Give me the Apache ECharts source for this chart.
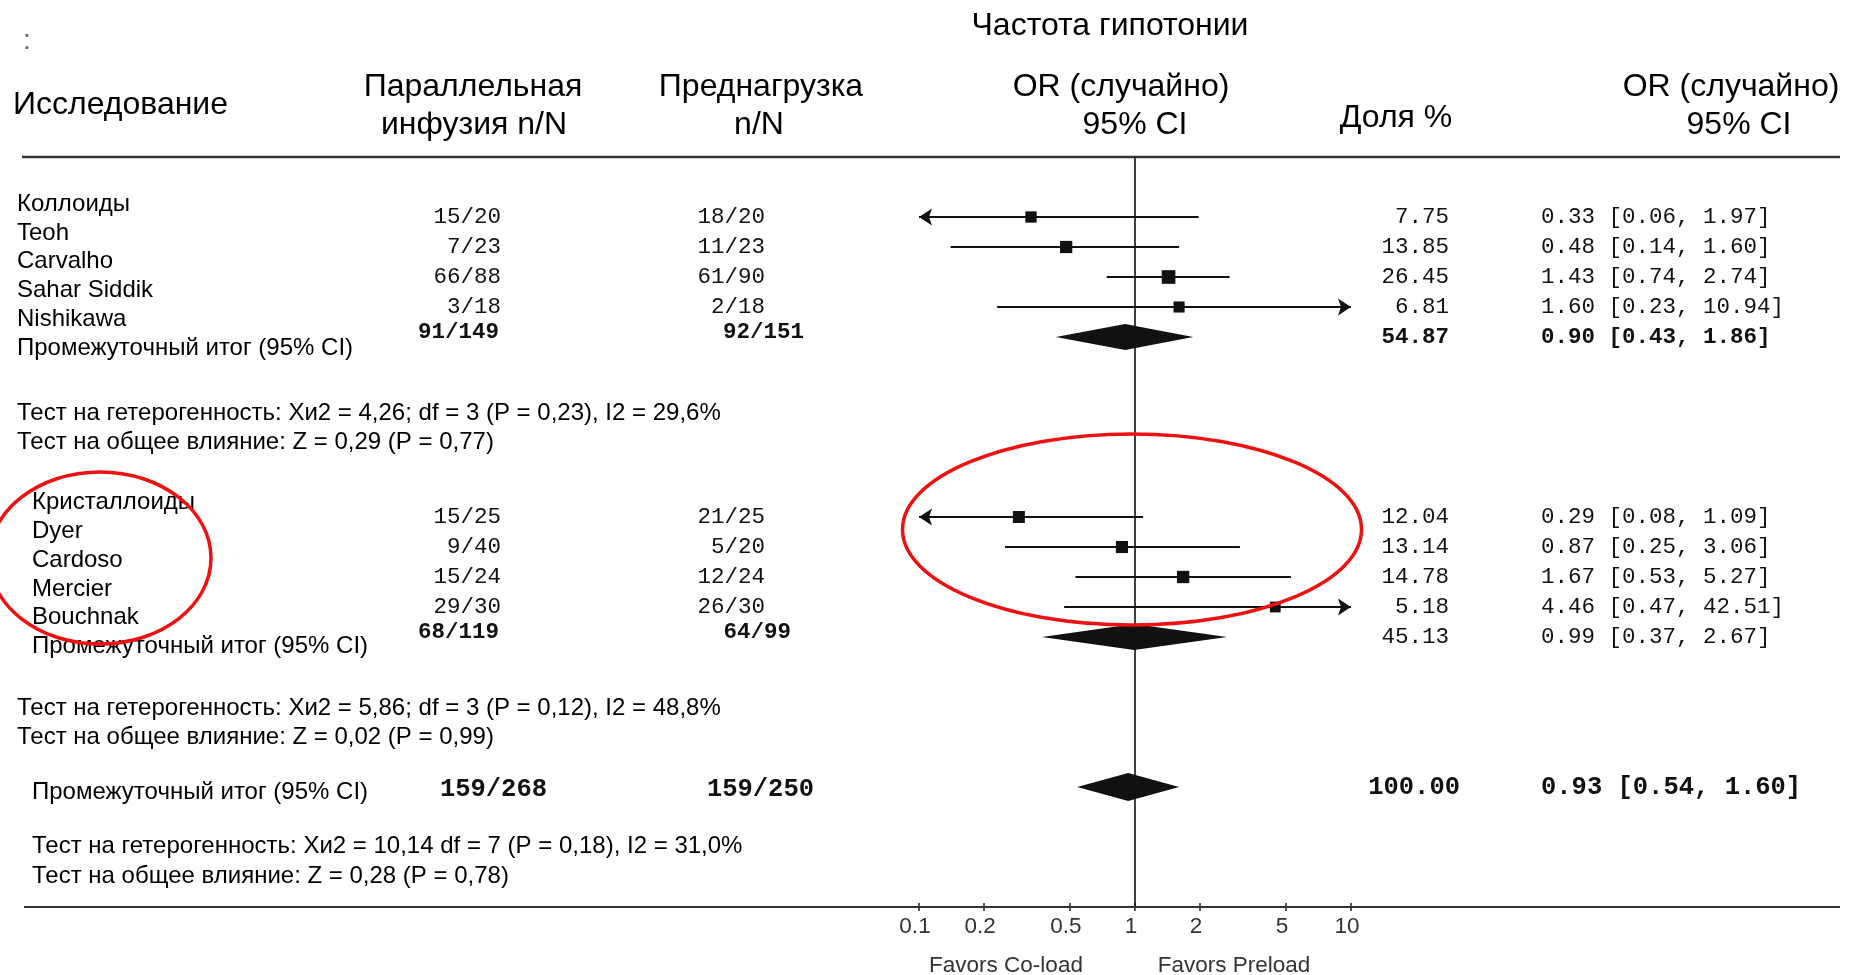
<!DOCTYPE html>
<html><head><meta charset="utf-8">
<script src="https://cdn.jsdelivr.net/npm/echarts@6/dist/echarts.min.js"></script>
<style>html,body{margin:0;padding:0;background:#fff}#c{width:1852px;height:975px}</style>
</head><body><div id="c"></div>
<script>
// ---------------- data ----------------
const chartTitle = 'Частота гипотонии';
const headerStudy = 'Исследование';
const headerCoLoad = ['Параллельная', 'инфузия n/N'];
const headerPreload = ['Преднагрузка', 'n/N'];
const headerOR = ['OR (случайно)', '95% CI'];
const headerWeight = 'Доля %';

const group1Name = 'Коллоиды';
const group1Studies = ['Teoh', 'Carvalho', 'Sahar Siddik', 'Nishikawa'];
const group1CoLoad = ['15/20', '7/23', '66/88', '3/18'];
const group1Preload = ['18/20', '11/23', '61/90', '2/18'];
const group1Weight = [7.75, 13.85, 26.45, 6.81];
const group1OR = [0.33, 0.48, 1.43, 1.60];
const group1Low = [0.06, 0.14, 0.74, 0.23];
const group1High = [1.97, 1.60, 2.74, 10.94];

const group2Name = 'Кристаллоиды';
const group2Studies = ['Dyer', 'Cardoso', 'Mercier', 'Bouchnak'];
const group2CoLoad = ['15/25', '9/40', '15/24', '29/30'];
const group2Preload = ['21/25', '5/20', '12/24', '26/30'];
const group2Weight = [12.04, 13.14, 14.78, 5.18];
const group2OR = [0.29, 0.87, 1.67, 4.46];
const group2Low = [0.08, 0.25, 0.53, 0.47];
const group2High = [1.09, 3.06, 5.27, 42.51];

const subtotalLabel = 'Промежуточный итог (95% CI)';
const subtotalCoLoad = ['91/149', '68/119'];
const subtotalPreload = ['92/151', '64/99'];
const subtotalWeight = [54.87, 45.13];
const subtotalOR = [0.90, 0.99];
const subtotalLow = [0.43, 0.37];
const subtotalHigh = [1.86, 2.67];

const totalCoLoad = '159/268';
const totalPreload = '159/250';
const totalWeight = 100.00;
const totalOR = 0.93;
const totalLow = 0.54;
const totalHigh = 1.60;

const tests1 = ['Тест на гетерогенность: Хи2 = 4,26; df = 3 (P = 0,23), I2 = 29,6%',
                'Тест на общее влияние: Z = 0,29 (P = 0,77)'];
const tests2 = ['Тест на гетерогенность: Хи2 = 5,86; df = 3 (P = 0,12), I2 = 48,8%',
                'Тест на общее влияние: Z = 0,02 (P = 0,99)'];
const testsTotal = ['Тест на гетерогенность: Хи2 = 10,14 df = 7 (P = 0,18), I2 = 31,0%',
                    'Тест на общее влияние: Z = 0,28 (P = 0,78)'];

const tickValues = [0.1, 0.2, 0.5, 1, 2, 5, 10];
const favorsLabels = ['Favors Co-load', 'Favors Preload'];

// ---------------- layout (positions / styles) ----------------
const SANS = '"Liberation Sans", Arial, sans-serif';
const MONO = '"Liberation Mono", "Courier New", monospace';
const L = {
  gridLeft: 919, gridWidth: 432, gridTop: 157, gridHeight: 750,
  rowMin: -2, rowMax: 23,
  rows1: [0, 1, 2, 3], sub1: 4,
  rows2: [10, 11, 12, 13], sub2: 14,
  total: 19,
  colCoRight: 501, colPreRight: 765,
  subCoRight: [499, 499], subPreRight: [804, 791],
  totCoRight: 547, totPreRight: 814,
  weightRight: 1449, totWeightRight: 1460,
  ciLeft: 1541,
  monoSize: 22.5, monoBigSize: 25.5,
  labelSize: 24, headSize: 32
};
const INK = '#111';
const MONOINK = '#111';
const axisMin = tickValues[0], axisMax = tickValues[tickValues.length - 1];
const fmtCI = (o, l, h) => o.toFixed(2) + ' [' + l.toFixed(2) + ', ' + h.toFixed(2) + ']';

// ---------------- series data ----------------
const ciData = [], sqData = [], dmData = [];
function addStudies(ors, lows, highs, weights, rows) {
  ors.forEach((o, i) => {
    ciData.push([lows[i], highs[i], rows[i]]);
    sqData.push([o, rows[i], weights[i]]);
  });
}
addStudies(group1OR, group1Low, group1High, group1Weight, L.rows1);
addStudies(group2OR, group2Low, group2High, group2Weight, L.rows2);
dmData.push([subtotalOR[0], subtotalLow[0], subtotalHigh[0], L.sub1, 13]);
dmData.push([subtotalOR[1], subtotalLow[1], subtotalHigh[1], L.sub2, 13]);
dmData.push([totalOR, totalLow, totalHigh, L.total, 14]);

const chart = echarts.init(document.getElementById('c'), null, {renderer: 'canvas'});
const tickFmt = v => String(+Number(v).toPrecision(3));

chart.setOption({
  animation: false,
  backgroundColor: '#ffffff',
  grid: {left: L.gridLeft, width: L.gridWidth, top: L.gridTop, height: L.gridHeight, containLabel: false},
  xAxis: [{
    type: 'log', logBase: 10, min: axisMin, max: axisMax, position: 'bottom',
    axisLine: {show: false, onZero: false},
    splitLine: {show: false},
    axisTick: {show: true, length: 4, customValues: tickValues, lineStyle: {color: '#222', width: 1.5}},
    axisLabel: {show: true, customValues: tickValues, formatter: tickFmt, margin: 8,
      fontFamily: SANS, fontSize: 22.5, color: '#333', padding: [0, 8, 0, 0]},
    minorTick: {show: false}
  }, {
    type: 'log', logBase: 10, min: axisMin, max: axisMax, position: 'bottom', gridIndex: 0,
    axisLine: {show: false, onZero: false}, splitLine: {show: false}, axisLabel: {show: false},
    axisTick: {show: true, inside: true, length: 4, customValues: tickValues, lineStyle: {color: '#222', width: 1.5}}
  }],
  yAxis: {type: 'value', inverse: true, min: L.rowMin, max: L.rowMax, show: false},
  series: [{
    type: 'custom', name: 'ci', xAxisIndex: 0, data: ciData, encode: {x: [0, 1], y: 2}, silent: true,
    renderItem: (params, api) => {
      const lo = api.value(0), hi = api.value(1), row = api.value(2);
      const a = api.coord([Math.max(lo, axisMin), row]);
      const b = api.coord([Math.min(hi, axisMax), row]);
      const ch = [{type: 'line', shape: {x1: a[0], y1: a[1], x2: b[0], y2: b[1]}, style: {stroke: INK, lineWidth: 2.2}}];
      if (lo < axisMin) ch.push({type: 'polygon', shape: {points: [[a[0], a[1]], [a[0] + 13, a[1] - 8.5], [a[0] + 10, a[1]], [a[0] + 13, a[1] + 8.5]]}, style: {fill: INK}});
      if (hi > axisMax) ch.push({type: 'polygon', shape: {points: [[b[0], b[1]], [b[0] - 13, b[1] - 8.5], [b[0] - 10, b[1]], [b[0] - 13, b[1] + 8.5]]}, style: {fill: INK}});
      return {type: 'group', children: ch};
    },
    markLine: {
      silent: true, symbol: 'none', label: {show: false},
      lineStyle: {color: '#111', width: 1.6, type: 'solid'},
      data: [{xAxis: 1}]
    }
  }, {
    type: 'custom', name: 'or', xAxisIndex: 0, data: sqData, encode: {x: 0, y: 1}, silent: true,
    renderItem: (params, api) => {
      const p = api.coord([api.value(0), api.value(1)]);
      const s = 8.5 + Math.sqrt(api.value(2));
      return {type: 'rect', shape: {x: p[0] - s / 2, y: p[1] - s / 2, width: s, height: s}, style: {fill: '#111'}};
    }
  }, {
    type: 'custom', name: 'pooled', xAxisIndex: 0, data: dmData, encode: {x: [1, 2], y: 3}, silent: true,
    renderItem: (params, api) => {
      const row = api.value(3), hh = api.value(4);
      const c = api.coord([api.value(0), row]);
      const l = api.coord([api.value(1), row]);
      const r = api.coord([api.value(2), row]);
      return {type: 'polygon', shape: {points: [[l[0], c[1]], [c[0], c[1] - hh], [r[0], c[1]], [c[0], c[1] + hh]]}, style: {fill: '#111'}};
    }
  }]
});

// ---------------- text table (positions from the y scale) ----------------
const rowY = r => chart.convertToPixel({yAxisIndex: 0}, r);
const G = [];
function txt(text, x, y, size, opts) {
  opts = opts || {};
  G.push({type: 'text', x: x, y: y, silent: true, z: 10,
    style: {text: text, fontFamily: opts.font || SANS, fontSize: size, fontWeight: opts.weight || 'normal',
      fill: opts.color || '#000', textAlign: opts.align || 'left', textVerticalAlign: 'middle',
      align: opts.align || 'left', verticalAlign: 'middle'}});
}
// headers
txt(chartTitle, 1110, 26, L.headSize, {align: 'center'});
txt(':', 23, 41, 28, {color: '#666'});
txt(headerStudy, 13, 105, L.headSize);
txt(headerCoLoad[0], 473, 87, L.headSize, {align: 'center'});
txt(headerCoLoad[1], 474, 125, L.headSize, {align: 'center'});
txt(headerPreload[0], 761, 87, L.headSize, {align: 'center'});
txt(headerPreload[1], 759, 125, L.headSize, {align: 'center'});
txt(headerOR[0], 1121, 87, L.headSize, {align: 'center'});
txt(headerOR[1], 1135, 125, L.headSize, {align: 'center'});
txt(headerWeight, 1396, 118, L.headSize, {align: 'center'});
txt(headerOR[0], 1731, 87, L.headSize, {align: 'center'});
txt(headerOR[1], 1739, 125, L.headSize, {align: 'center'});

// study labels
const lab1 = [group1Name].concat(group1Studies, [subtotalLabel]);
lab1.forEach((t, i) => txt(t, 17, 204 + i * 28.9, L.labelSize));
const lab2 = [group2Name].concat(group2Studies, [subtotalLabel]);
lab2.forEach((t, i) => txt(t, 32, 502.5 + i * 28.8, L.labelSize));
txt(subtotalLabel, 32, 792.5, L.labelSize);
tests1.forEach((t, i) => txt(t, 17, 413 + i * 29, L.labelSize));
tests2.forEach((t, i) => txt(t, 17, 708 + i * 29, L.labelSize));
testsTotal.forEach((t, i) => txt(t, 32, 846 + i * 30, L.labelSize));

// numeric columns
const M = {font: MONO, color: MONOINK, align: 'right'};
function studyCols(co, pre, w, ors, lows, highs, rows) {
  rows.forEach((r, i) => {
    const y = rowY(r);
    txt(co[i], L.colCoRight, y, L.monoSize, M);
    txt(pre[i], L.colPreRight, y, L.monoSize, M);
    txt(w[i].toFixed(2), L.weightRight, y, L.monoSize, M);
    txt(fmtCI(ors[i], lows[i], highs[i]), L.ciLeft, y, L.monoSize, {font: MONO, color: MONOINK});
  });
}
studyCols(group1CoLoad, group1Preload, group1Weight, group1OR, group1Low, group1High, L.rows1);
studyCols(group2CoLoad, group2Preload, group2Weight, group2OR, group2Low, group2High, L.rows2);
[L.sub1, L.sub2].forEach((r, i) => {
  const yn = rowY(r) - 5, y = rowY(r);
  const B = {font: MONO, color: MONOINK, align: 'right', weight: 'bold'};
  txt(subtotalCoLoad[i], L.subCoRight[i], yn, L.monoSize, B);
  txt(subtotalPreload[i], L.subPreRight[i], yn, L.monoSize, B);
  const wt = i === 0 ? 'bold' : 'normal';
  txt(subtotalWeight[i].toFixed(2), L.weightRight, y, L.monoSize, {font: MONO, color: MONOINK, align: 'right', weight: wt});
  txt(fmtCI(subtotalOR[i], subtotalLow[i], subtotalHigh[i]), L.ciLeft, y, L.monoSize, {font: MONO, color: MONOINK, weight: wt});
});
{
  const y = rowY(L.total);
  const B = {font: MONO, color: MONOINK, align: 'right', weight: 'bold'};
  txt(totalCoLoad, L.totCoRight, y + 3, L.monoBigSize, B);
  txt(totalPreload, L.totPreRight, y + 3, L.monoBigSize, B);
  txt(totalWeight.toFixed(2), L.totWeightRight, y + 1, L.monoBigSize, B);
  txt(fmtCI(totalOR, totalLow, totalHigh), L.ciLeft, y + 1, L.monoBigSize, {font: MONO, color: MONOINK, weight: 'bold'});
}
// axis captions
txt(favorsLabels[0], 1006, 966, 22.5, {align: 'center', color: '#333'});
txt(favorsLabels[1], 1234, 966, 22.5, {align: 'center', color: '#333'});

// rules
const topY = L.gridTop, botY = L.gridTop + L.gridHeight;
G.push({type: 'line', silent: true, z: 5, shape: {x1: 22, y1: topY, x2: 1840, y2: topY}, style: {stroke: '#333', lineWidth: 2.5}});
G.push({type: 'line', silent: true, z: 5, shape: {x1: 24, y1: botY, x2: 1840, y2: botY}, style: {stroke: '#333', lineWidth: 2}});

// red annotation ellipses
G.push({type: 'ellipse', silent: true, z: 20, shape: {cx: 100, cy: 558, rx: 111, ry: 86}, style: {fill: null, stroke: '#ee1111', lineWidth: 3.5}});
G.push({type: 'ellipse', silent: true, z: 20, shape: {cx: 1132, cy: 529.5, rx: 229.5, ry: 95.5}, style: {fill: null, stroke: '#ee1111', lineWidth: 3.5}});

chart.setOption({graphic: {elements: G}});
</script>
</body></html>
